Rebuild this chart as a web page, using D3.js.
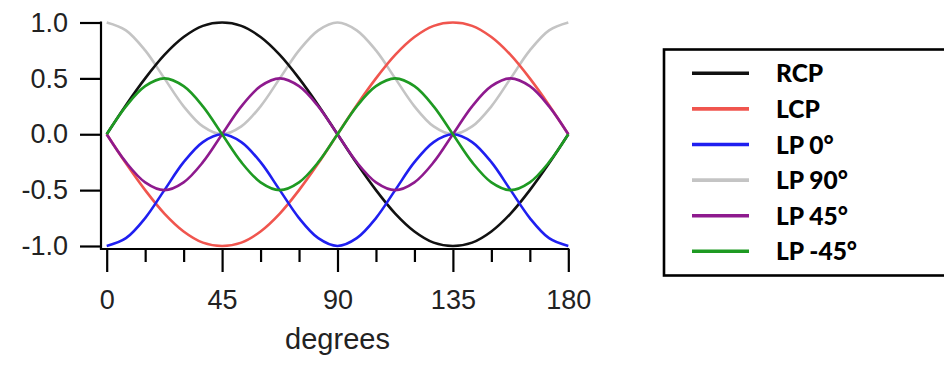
<!DOCTYPE html>
<html>
<head>
<meta charset="utf-8">
<script src="https://cdn.jsdelivr.net/npm/d3@7"></script>
<style>
  html, body { margin: 0; padding: 0; background: #fff; }
  svg { display: block; }
  .tick text { font-family: "Liberation Sans", Arial, sans-serif; }
</style>
</head>
<body>
<svg id="chart" width="944" height="365"></svg>
<script>
// angle samples (degrees) and curve values
const degrees = [0, 7.5, 15, 22.5, 30, 37.5, 45, 52.5, 60, 67.5, 75, 82.5, 90,
  97.5, 105, 112.5, 120, 127.5, 135, 142.5, 150, 157.5, 165, 172.5, 180]

const rcp = [0, 0.26, 0.5, 0.71, 0.87, 0.97, 1, 0.97, 0.87, 0.71, 0.5, 0.26, 0,
  -0.26, -0.5, -0.71, -0.87, -0.97, -1, -0.97, -0.87, -0.71, -0.5, -0.26, 0]
const lcp = [0, -0.26, -0.5, -0.71, -0.87, -0.97, -1, -0.97, -0.87, -0.71, -0.5, -0.26, 0,
  0.26, 0.5, 0.71, 0.87, 0.97, 1, 0.97, 0.87, 0.71, 0.5, 0.26, 0]
const lp0 = [-1, -0.93, -0.75, -0.5, -0.25, -0.07, 0, -0.07, -0.25, -0.5, -0.75, -0.93, -1,
  -0.93, -0.75, -0.5, -0.25, -0.07, 0, -0.07, -0.25, -0.5, -0.75, -0.93, -1]
const lp90 = [1, 0.93, 0.75, 0.5, 0.25, 0.07, 0, 0.07, 0.25, 0.5, 0.75, 0.93, 1,
  0.93, 0.75, 0.5, 0.25, 0.07, 0, 0.07, 0.25, 0.5, 0.75, 0.93, 1]
const lp45 = [0, -0.25, -0.43, -0.5, -0.43, -0.25, 0, 0.25, 0.43, 0.5, 0.43, 0.25, 0,
  -0.25, -0.43, -0.5, -0.43, -0.25, 0, 0.25, 0.43, 0.5, 0.43, 0.25, 0]
const lpm45 = [0, 0.25, 0.43, 0.5, 0.43, 0.25, 0, -0.25, -0.43, -0.5, -0.43, -0.25, 0,
  0.25, 0.43, 0.5, 0.43, 0.25, 0, -0.25, -0.43, -0.5, -0.43, -0.25, 0]

const seriesNames = ['RCP', 'LCP', 'LP 0°', 'LP 90°', 'LP 45°', 'LP -45°']
const seriesValues = [rcp, lcp, lp0, lp90, lp45, lpm45]
const seriesColors = ['#111111', '#f0554e', '#1f1ff0', '#c4c4c4', '#8e1a8e', '#1e9a22']
// draw order: back to front
const drawOrder = [3, 0, 1, 2, 4, 5]

const xTicks = [0, 45, 90, 135, 180]
const xMinorTicks = [15, 30, 60, 75, 105, 120, 150, 165]
const yTicks = [-1, -0.5, 0, 0.5, 1]

const svg = d3.select('#chart')

const x = d3.scaleLinear().domain([0, 180]).range([106.7, 568.3])
const y = d3.scaleLinear().domain([-1, 1]).range([246, 22.5])
const axisX = 101, axisY = 249

// curves
const line = d3.line()
  .x((d, i) => x(degrees[i]))
  .y(d => y(d))
  .curve(d3.curveCatmullRom.alpha(0.5))

svg.append('g').selectAll('path')
  .data(drawOrder)
  .join('path')
  .attr('d', k => line(seriesValues[k]))
  .attr('fill', 'none')
  .attr('stroke', k => seriesColors[k])
  .attr('stroke-width', 2.6)
  .attr('stroke-linejoin', 'round')

// y axis
const yAxis = svg.append('g')
  .attr('transform', `translate(${axisX},0)`)
  .call(d3.axisLeft(y).tickValues(yTicks).tickFormat(d3.format('.1f'))
    .tickSize(21).tickSizeOuter(0).tickPadding(12))
yAxis.select('.domain').remove()
yAxis.selectAll('line').attr('stroke', '#000').attr('stroke-width', 2.2)
yAxis.selectAll('text').attr('font-size', 27).attr('fill', '#222')
  .text(d => d3.format('.1f')(d).replace('−', '-'))
svg.append('line')
  .attr('x1', axisX).attr('x2', axisX)
  .attr('y1', y(1) - 1).attr('y2', axisY)
  .attr('stroke', '#000').attr('stroke-width', 2.2)

// x axis
const xAxis = svg.append('g')
  .attr('transform', `translate(0,${axisY})`)
  .call(d3.axisBottom(x).tickValues(xTicks).tickFormat(d3.format('d'))
    .tickSize(23).tickSizeOuter(0).tickPadding(18))
xAxis.select('.domain').remove()
xAxis.selectAll('line').attr('stroke', '#000').attr('stroke-width', 2.2)
xAxis.selectAll('text').attr('font-size', 27).attr('fill', '#222')
svg.append('g')
  .attr('transform', `translate(0,${axisY})`)
  .call(d3.axisBottom(x).tickValues(xMinorTicks).tickFormat('').tickSize(13).tickSizeOuter(0))
  .call(g => g.select('.domain').remove())
  .selectAll('line').attr('stroke', '#000').attr('stroke-width', 2.2)
svg.append('line')
  .attr('x1', axisX - 1.1).attr('x2', x(180) + 1)
  .attr('y1', axisY).attr('y2', axisY)
  .attr('stroke', '#000').attr('stroke-width', 2.2)

svg.append('text')
  .attr('x', (x(0) + x(180)) / 2)
  .attr('y', 349)
  .attr('text-anchor', 'middle')
  .attr('font-family', '"Liberation Sans", Arial, sans-serif')
  .attr('font-size', 29)
  .attr('fill', '#222')
  .text('degrees')

// legend
const legend = svg.append('g')
legend.append('rect')
  .attr('x', 664).attr('y', 49.5)
  .attr('width', 320).attr('height', 226)
  .attr('fill', '#fff')
  .attr('stroke', '#000').attr('stroke-width', 2.6)

const rows = legend.selectAll('g.row')
  .data(seriesNames)
  .join('g')
  .attr('class', 'row')
  .attr('transform', (d, i) => `translate(0,${73.3 + i * 35.6})`)
rows.append('line')
  .attr('x1', 692).attr('x2', 749)
  .attr('stroke', (d, i) => seriesColors[i])
  .attr('stroke-width', 3.6)
rows.append('text')
  .attr('x', 776).attr('y', 9)
  .attr('font-family', 'Lato, "Open Sans", sans-serif')
  .attr('font-weight', 900)
  .attr('font-size', 24.5)
  .attr('fill', '#000')
  .text(d => d)
</script>
</body>
</html>
